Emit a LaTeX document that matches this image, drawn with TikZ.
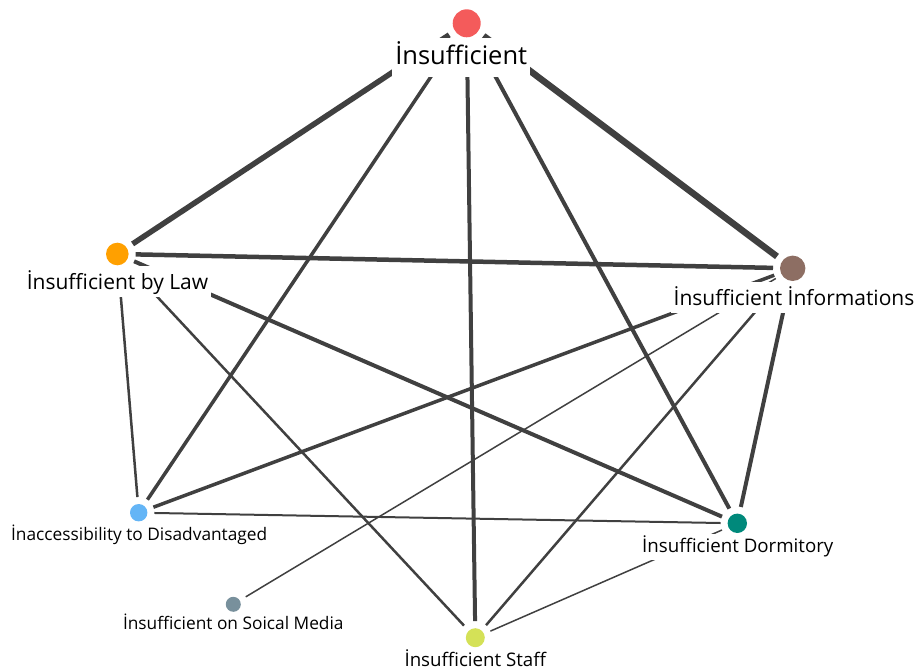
\documentclass[tikz,border=0pt]{standalone}
\usepackage{fontspec}
\setmainfont{Open Sans}
\definecolor{redish}{HTML}{F45B5B}
\definecolor{orangeish}{HTML}{FFA000}
\definecolor{brownish}{HTML}{8D6E63}
\definecolor{blueish}{HTML}{64B5F6}
\definecolor{tealish}{HTML}{00897B}
\definecolor{greyish}{HTML}{78909C}
\definecolor{limeish}{HTML}{D4E157}
\definecolor{linkgrey}{HTML}{404040}

\begin{document}
\begin{tikzpicture}[x=1pt, y=-1pt]
\tikzstyle{every node}=[inner sep=0pt];
\tikzstyle{vertex}=[shape=circle, outer sep=7pt];
\tikzstyle{caption}=[anchor=base, fill=white, inner xsep=3pt, inner ysep=1.5pt, text depth=6pt];
\useasboundingbox (0,0) rectangle (917,669);
% vertices
\path (466.7,23.3) node[vertex, fill=redish, minimum size=28pt] (ins) {};
\path (117.3,254) node[vertex, fill=orangeish, minimum size=22.6pt] (law) {};
\path (792.7,268.3) node[vertex, fill=brownish, minimum size=25.4pt] (info) {};
\path (138.7,512.7) node[vertex, fill=blueish, minimum size=17.4pt] (dis) {};
\path (737.3,523.3) node[vertex, fill=tealish, minimum size=19.4pt] (dorm) {};
\path (233.3,604.3) node[vertex, fill=greyish, minimum size=15pt] (media) {};
\path (475.3,637.7) node[vertex, fill=limeish, minimum size=19pt] (staff) {};
% links
\draw[linkgrey]
(ins) edge [line width=5.5pt] (law)
(ins) edge [line width=6.5pt] (info)
(ins) edge [line width=3.5pt] (dis)
(ins) edge [line width=4pt] (staff)
(ins) edge [line width=4pt] (dorm)
(law) edge [line width=4.5pt] (info)
(law) edge [line width=2.5pt] (dis)
(law) edge [line width=2.5pt] (staff)
(law) edge [line width=4pt] (dorm)
(info) edge [line width=3.5pt] (dis)
(info) edge [line width=1.5pt] (media)
(info) edge [line width=2.5pt] (staff)
(info) edge [line width=4pt] (dorm)
(dis) edge [line width=2pt] (dorm)
(dorm) edge [line width=1.5pt] (staff)
;
% captions
\path (461.2,64.5) node[caption, text height=24.5pt, text depth=10.5pt, font=\fontsize{25.5}{26}\selectfont] (inscap) {İnsufficient};
\path (117.5,289) node[caption, text height=21.5pt, font=\fontsize{21}{22}\selectfont] (lawcap) {İnsufficient by Law};
\path (794,305) node[caption, text height=21.5pt, font=\fontsize{21}{22}\selectfont] (infocap) {İnsufficient İnformations};
\path (139.2,540) node[caption, text height=16.5pt, font=\fontsize{17.3}{18}\selectfont] (discap) {İnaccessibility to Disadvantaged};
\path (737.8,552.7) node[caption, text height=17.5pt, font=\fontsize{18.7}{19}\selectfont] (dormcap) {İnsufficient Dormitory};
\path (233.3,629.3) node[caption, text height=15.5pt, font=\fontsize{17.3}{18}\selectfont] (mediacap) {İnsufficient on Soical Media};
\path (475.3,666) node[caption, text height=17pt, text depth=3pt, font=\fontsize{18.7}{19}\selectfont] (staffcap) {İnsufficient Staff};
\end{tikzpicture}
\end{document}
